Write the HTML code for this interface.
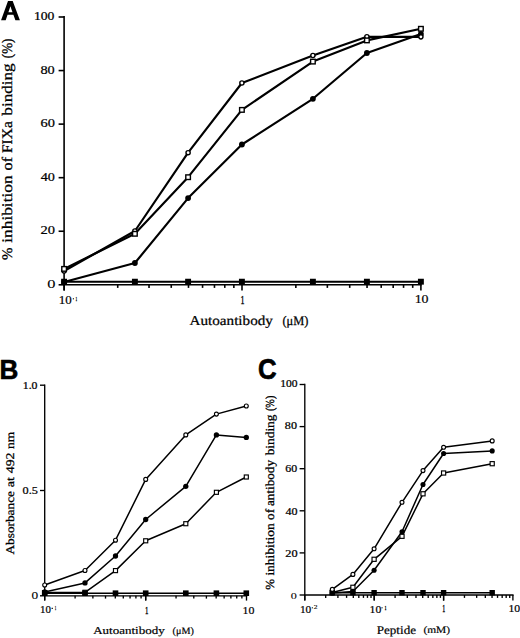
<!DOCTYPE html>
<html><head><meta charset="utf-8"><style>
html,body{margin:0;padding:0;background:#fff;}
body{width:520px;height:638px;overflow:hidden;}
svg{display:block;}
text{fill:#000;}
.gp{text-rendering:geometricPrecision;}
</style></head><body>
<svg width="520" height="638" viewBox="0 0 520 638">
<rect width="520" height="638" fill="#fff"/>
<line x1="64.10" y1="16.10" x2="64.10" y2="290.60" stroke="#000" stroke-width="1.6"/>
<line x1="63.20" y1="284.80" x2="421.80" y2="284.80" stroke="#000" stroke-width="1.6"/>
<line x1="58.60" y1="284.80" x2="64.10" y2="284.80" stroke="#000" stroke-width="1.6"/>
<line x1="58.60" y1="231.24" x2="64.10" y2="231.24" stroke="#000" stroke-width="1.6"/>
<line x1="58.60" y1="177.68" x2="64.10" y2="177.68" stroke="#000" stroke-width="1.6"/>
<line x1="58.60" y1="124.12" x2="64.10" y2="124.12" stroke="#000" stroke-width="1.6"/>
<line x1="58.60" y1="70.56" x2="64.10" y2="70.56" stroke="#000" stroke-width="1.6"/>
<line x1="58.60" y1="17.00" x2="64.10" y2="17.00" stroke="#000" stroke-width="1.6"/>
<line x1="64.20" y1="284.80" x2="64.20" y2="290.60" stroke="#000" stroke-width="1.6"/>
<line x1="117.72" y1="284.80" x2="117.72" y2="287.90" stroke="#000" stroke-width="1.6"/>
<line x1="149.03" y1="284.80" x2="149.03" y2="287.90" stroke="#000" stroke-width="1.6"/>
<line x1="171.25" y1="284.80" x2="171.25" y2="287.90" stroke="#000" stroke-width="1.6"/>
<line x1="188.48" y1="284.80" x2="188.48" y2="287.90" stroke="#000" stroke-width="1.6"/>
<line x1="202.56" y1="284.80" x2="202.56" y2="287.90" stroke="#000" stroke-width="1.6"/>
<line x1="214.46" y1="284.80" x2="214.46" y2="287.90" stroke="#000" stroke-width="1.6"/>
<line x1="224.77" y1="284.80" x2="224.77" y2="287.90" stroke="#000" stroke-width="1.6"/>
<line x1="233.86" y1="284.80" x2="233.86" y2="287.90" stroke="#000" stroke-width="1.6"/>
<line x1="242.00" y1="284.80" x2="242.00" y2="290.60" stroke="#000" stroke-width="1.6"/>
<line x1="295.85" y1="284.80" x2="295.85" y2="287.90" stroke="#000" stroke-width="1.6"/>
<line x1="327.36" y1="284.80" x2="327.36" y2="287.90" stroke="#000" stroke-width="1.6"/>
<line x1="349.71" y1="284.80" x2="349.71" y2="287.90" stroke="#000" stroke-width="1.6"/>
<line x1="367.05" y1="284.80" x2="367.05" y2="287.90" stroke="#000" stroke-width="1.6"/>
<line x1="381.21" y1="284.80" x2="381.21" y2="287.90" stroke="#000" stroke-width="1.6"/>
<line x1="393.19" y1="284.80" x2="393.19" y2="287.90" stroke="#000" stroke-width="1.6"/>
<line x1="403.56" y1="284.80" x2="403.56" y2="287.90" stroke="#000" stroke-width="1.6"/>
<line x1="412.71" y1="284.80" x2="412.71" y2="287.90" stroke="#000" stroke-width="1.6"/>
<line x1="420.90" y1="284.80" x2="420.90" y2="290.60" stroke="#000" stroke-width="1.6"/>
<polyline points="64.10,281.70 134.90,281.70 188.10,281.70 241.90,281.70 312.90,281.70 366.90,281.70 420.90,281.70" fill="none" stroke="#000" stroke-width="2.15" stroke-linejoin="round" stroke-linecap="round"/>
<polyline points="64.10,282.00 134.90,263.00 188.10,198.10 241.90,144.50 312.90,98.80 366.90,53.00 420.90,34.00" fill="none" stroke="#000" stroke-width="2.15" stroke-linejoin="round" stroke-linecap="round"/>
<polyline points="64.10,268.90 134.90,233.80 188.10,177.20 241.90,109.90 312.90,61.60 366.90,40.40 420.90,28.80" fill="none" stroke="#000" stroke-width="2.15" stroke-linejoin="round" stroke-linecap="round"/>
<polyline points="64.10,271.00 134.90,231.00 188.10,152.70 241.90,83.00 312.90,55.50 366.90,36.70 420.90,36.85" fill="none" stroke="#000" stroke-width="2.15" stroke-linejoin="round" stroke-linecap="round"/>
<rect x="61.15" y="278.75" width="5.90" height="5.90" fill="#000"/>
<rect x="131.95" y="278.75" width="5.90" height="5.90" fill="#000"/>
<rect x="185.15" y="278.75" width="5.90" height="5.90" fill="#000"/>
<rect x="238.95" y="278.75" width="5.90" height="5.90" fill="#000"/>
<rect x="309.95" y="278.75" width="5.90" height="5.90" fill="#000"/>
<rect x="363.95" y="278.75" width="5.90" height="5.90" fill="#000"/>
<rect x="417.95" y="278.75" width="5.90" height="5.90" fill="#000"/>
<circle cx="64.10" cy="282.00" r="2.90" fill="#000"/>
<circle cx="134.90" cy="263.00" r="2.90" fill="#000"/>
<circle cx="188.10" cy="198.10" r="2.90" fill="#000"/>
<circle cx="241.90" cy="144.50" r="2.90" fill="#000"/>
<circle cx="312.90" cy="98.80" r="2.90" fill="#000"/>
<circle cx="366.90" cy="53.00" r="2.90" fill="#000"/>
<circle cx="420.90" cy="34.00" r="2.90" fill="#000"/>
<circle cx="64.10" cy="271.00" r="2.10" fill="#fff" stroke="#000" stroke-width="1.4"/>
<circle cx="134.90" cy="231.00" r="2.10" fill="#fff" stroke="#000" stroke-width="1.4"/>
<circle cx="188.10" cy="152.70" r="2.10" fill="#fff" stroke="#000" stroke-width="1.4"/>
<circle cx="241.90" cy="83.00" r="2.10" fill="#fff" stroke="#000" stroke-width="1.4"/>
<circle cx="312.90" cy="55.50" r="2.10" fill="#fff" stroke="#000" stroke-width="1.4"/>
<circle cx="366.90" cy="36.70" r="2.10" fill="#fff" stroke="#000" stroke-width="1.4"/>
<circle cx="420.90" cy="36.85" r="2.10" fill="#fff" stroke="#000" stroke-width="1.4"/>
<rect x="61.80" y="266.60" width="4.60" height="4.60" fill="#fff" stroke="#000" stroke-width="1.4"/>
<rect x="132.60" y="231.50" width="4.60" height="4.60" fill="#fff" stroke="#000" stroke-width="1.4"/>
<rect x="185.80" y="174.90" width="4.60" height="4.60" fill="#fff" stroke="#000" stroke-width="1.4"/>
<rect x="239.60" y="107.60" width="4.60" height="4.60" fill="#fff" stroke="#000" stroke-width="1.4"/>
<rect x="310.60" y="59.30" width="4.60" height="4.60" fill="#fff" stroke="#000" stroke-width="1.4"/>
<rect x="364.60" y="38.10" width="4.60" height="4.60" fill="#fff" stroke="#000" stroke-width="1.4"/>
<rect x="418.60" y="26.50" width="4.60" height="4.60" fill="#fff" stroke="#000" stroke-width="1.4"/>
<line x1="44.70" y1="384.50" x2="44.70" y2="600.60" stroke="#000" stroke-width="1.35"/>
<line x1="44.00" y1="595.80" x2="247.20" y2="595.80" stroke="#000" stroke-width="1.35"/>
<line x1="40.00" y1="595.80" x2="44.70" y2="595.80" stroke="#000" stroke-width="1.35"/>
<line x1="40.00" y1="490.50" x2="44.70" y2="490.50" stroke="#000" stroke-width="1.35"/>
<line x1="40.00" y1="385.20" x2="44.70" y2="385.20" stroke="#000" stroke-width="1.35"/>
<line x1="44.70" y1="595.80" x2="44.70" y2="600.60" stroke="#000" stroke-width="1.35"/>
<line x1="75.10" y1="595.80" x2="75.10" y2="598.60" stroke="#000" stroke-width="1.35"/>
<line x1="92.89" y1="595.80" x2="92.89" y2="598.60" stroke="#000" stroke-width="1.35"/>
<line x1="105.51" y1="595.80" x2="105.51" y2="598.60" stroke="#000" stroke-width="1.35"/>
<line x1="115.30" y1="595.80" x2="115.30" y2="598.60" stroke="#000" stroke-width="1.35"/>
<line x1="123.29" y1="595.80" x2="123.29" y2="598.60" stroke="#000" stroke-width="1.35"/>
<line x1="130.05" y1="595.80" x2="130.05" y2="598.60" stroke="#000" stroke-width="1.35"/>
<line x1="135.91" y1="595.80" x2="135.91" y2="598.60" stroke="#000" stroke-width="1.35"/>
<line x1="141.08" y1="595.80" x2="141.08" y2="598.60" stroke="#000" stroke-width="1.35"/>
<line x1="145.70" y1="595.80" x2="145.70" y2="600.60" stroke="#000" stroke-width="1.35"/>
<line x1="145.70" y1="595.80" x2="145.70" y2="600.60" stroke="#000" stroke-width="1.35"/>
<line x1="176.04" y1="595.80" x2="176.04" y2="598.60" stroke="#000" stroke-width="1.35"/>
<line x1="193.79" y1="595.80" x2="193.79" y2="598.60" stroke="#000" stroke-width="1.35"/>
<line x1="206.39" y1="595.80" x2="206.39" y2="598.60" stroke="#000" stroke-width="1.35"/>
<line x1="216.16" y1="595.80" x2="216.16" y2="598.60" stroke="#000" stroke-width="1.35"/>
<line x1="224.14" y1="595.80" x2="224.14" y2="598.60" stroke="#000" stroke-width="1.35"/>
<line x1="230.89" y1="595.80" x2="230.89" y2="598.60" stroke="#000" stroke-width="1.35"/>
<line x1="236.73" y1="595.80" x2="236.73" y2="598.60" stroke="#000" stroke-width="1.35"/>
<line x1="241.89" y1="595.80" x2="241.89" y2="598.60" stroke="#000" stroke-width="1.35"/>
<line x1="246.50" y1="595.80" x2="246.50" y2="600.60" stroke="#000" stroke-width="1.35"/>
<polyline points="44.70,593.20 85.00,593.20 115.50,593.20 145.70,593.20 185.80,593.20 216.40,593.20 246.30,593.20" fill="none" stroke="#000" stroke-width="1.5" stroke-linejoin="round" stroke-linecap="round"/>
<polyline points="44.70,592.60 85.00,592.30 115.50,570.60 145.70,540.80 185.80,523.70 216.40,492.30 246.30,477.00" fill="none" stroke="#000" stroke-width="1.5" stroke-linejoin="round" stroke-linecap="round"/>
<polyline points="44.70,592.00 85.00,582.90 115.50,556.00 145.70,519.50 185.80,486.30 216.40,434.90 246.30,437.40" fill="none" stroke="#000" stroke-width="1.5" stroke-linejoin="round" stroke-linecap="round"/>
<polyline points="44.70,585.00 85.00,570.50 115.50,540.20 145.70,479.40 185.80,434.90 216.40,414.10 246.30,406.00" fill="none" stroke="#000" stroke-width="1.5" stroke-linejoin="round" stroke-linecap="round"/>
<rect x="42.68" y="590.58" width="4.05" height="4.05" fill="#fff" stroke="#000" stroke-width="1.15"/>
<rect x="82.97" y="590.27" width="4.05" height="4.05" fill="#fff" stroke="#000" stroke-width="1.15"/>
<rect x="113.47" y="568.58" width="4.05" height="4.05" fill="#fff" stroke="#000" stroke-width="1.15"/>
<rect x="143.67" y="538.77" width="4.05" height="4.05" fill="#fff" stroke="#000" stroke-width="1.15"/>
<rect x="183.78" y="521.68" width="4.05" height="4.05" fill="#fff" stroke="#000" stroke-width="1.15"/>
<rect x="214.38" y="490.28" width="4.05" height="4.05" fill="#fff" stroke="#000" stroke-width="1.15"/>
<rect x="244.28" y="474.98" width="4.05" height="4.05" fill="#fff" stroke="#000" stroke-width="1.15"/>
<rect x="41.90" y="590.40" width="5.60" height="5.60" fill="#000"/>
<rect x="82.20" y="590.40" width="5.60" height="5.60" fill="#000"/>
<rect x="112.70" y="590.40" width="5.60" height="5.60" fill="#000"/>
<rect x="142.90" y="590.40" width="5.60" height="5.60" fill="#000"/>
<rect x="183.00" y="590.40" width="5.60" height="5.60" fill="#000"/>
<rect x="213.60" y="590.40" width="5.60" height="5.60" fill="#000"/>
<rect x="243.50" y="590.40" width="5.60" height="5.60" fill="#000"/>
<circle cx="44.70" cy="592.00" r="2.65" fill="#000"/>
<circle cx="85.00" cy="582.90" r="2.65" fill="#000"/>
<circle cx="115.50" cy="556.00" r="2.65" fill="#000"/>
<circle cx="145.70" cy="519.50" r="2.65" fill="#000"/>
<circle cx="185.80" cy="486.30" r="2.65" fill="#000"/>
<circle cx="216.40" cy="434.90" r="2.65" fill="#000"/>
<circle cx="246.30" cy="437.40" r="2.65" fill="#000"/>
<circle cx="44.70" cy="585.00" r="1.97" fill="#fff" stroke="#000" stroke-width="1.15"/>
<circle cx="85.00" cy="570.50" r="1.97" fill="#fff" stroke="#000" stroke-width="1.15"/>
<circle cx="115.50" cy="540.20" r="1.97" fill="#fff" stroke="#000" stroke-width="1.15"/>
<circle cx="145.70" cy="479.40" r="1.97" fill="#fff" stroke="#000" stroke-width="1.15"/>
<circle cx="185.80" cy="434.90" r="1.97" fill="#fff" stroke="#000" stroke-width="1.15"/>
<circle cx="216.40" cy="414.10" r="1.97" fill="#fff" stroke="#000" stroke-width="1.15"/>
<circle cx="246.30" cy="406.00" r="1.97" fill="#fff" stroke="#000" stroke-width="1.15"/>
<line x1="304.80" y1="383.80" x2="304.80" y2="600.60" stroke="#000" stroke-width="1.35"/>
<line x1="304.10" y1="595.00" x2="513.60" y2="595.00" stroke="#000" stroke-width="1.35"/>
<line x1="299.60" y1="595.00" x2="304.80" y2="595.00" stroke="#000" stroke-width="1.35"/>
<line x1="299.60" y1="552.90" x2="304.80" y2="552.90" stroke="#000" stroke-width="1.35"/>
<line x1="299.60" y1="510.80" x2="304.80" y2="510.80" stroke="#000" stroke-width="1.35"/>
<line x1="299.60" y1="468.70" x2="304.80" y2="468.70" stroke="#000" stroke-width="1.35"/>
<line x1="299.60" y1="426.60" x2="304.80" y2="426.60" stroke="#000" stroke-width="1.35"/>
<line x1="299.60" y1="384.50" x2="304.80" y2="384.50" stroke="#000" stroke-width="1.35"/>
<line x1="304.80" y1="595.00" x2="304.80" y2="600.60" stroke="#000" stroke-width="1.35"/>
<line x1="325.69" y1="595.00" x2="325.69" y2="597.90" stroke="#000" stroke-width="1.35"/>
<line x1="337.91" y1="595.00" x2="337.91" y2="597.90" stroke="#000" stroke-width="1.35"/>
<line x1="346.58" y1="595.00" x2="346.58" y2="597.90" stroke="#000" stroke-width="1.35"/>
<line x1="353.31" y1="595.00" x2="353.31" y2="597.90" stroke="#000" stroke-width="1.35"/>
<line x1="358.80" y1="595.00" x2="358.80" y2="597.90" stroke="#000" stroke-width="1.35"/>
<line x1="363.45" y1="595.00" x2="363.45" y2="597.90" stroke="#000" stroke-width="1.35"/>
<line x1="367.47" y1="595.00" x2="367.47" y2="597.90" stroke="#000" stroke-width="1.35"/>
<line x1="371.02" y1="595.00" x2="371.02" y2="597.90" stroke="#000" stroke-width="1.35"/>
<line x1="374.20" y1="595.00" x2="374.20" y2="600.60" stroke="#000" stroke-width="1.35"/>
<line x1="374.20" y1="595.00" x2="374.20" y2="600.60" stroke="#000" stroke-width="1.35"/>
<line x1="395.09" y1="595.00" x2="395.09" y2="597.90" stroke="#000" stroke-width="1.35"/>
<line x1="407.31" y1="595.00" x2="407.31" y2="597.90" stroke="#000" stroke-width="1.35"/>
<line x1="415.98" y1="595.00" x2="415.98" y2="597.90" stroke="#000" stroke-width="1.35"/>
<line x1="422.71" y1="595.00" x2="422.71" y2="597.90" stroke="#000" stroke-width="1.35"/>
<line x1="428.20" y1="595.00" x2="428.20" y2="597.90" stroke="#000" stroke-width="1.35"/>
<line x1="432.85" y1="595.00" x2="432.85" y2="597.90" stroke="#000" stroke-width="1.35"/>
<line x1="436.87" y1="595.00" x2="436.87" y2="597.90" stroke="#000" stroke-width="1.35"/>
<line x1="440.42" y1="595.00" x2="440.42" y2="597.90" stroke="#000" stroke-width="1.35"/>
<line x1="443.60" y1="595.00" x2="443.60" y2="600.60" stroke="#000" stroke-width="1.35"/>
<line x1="443.60" y1="595.00" x2="443.60" y2="600.60" stroke="#000" stroke-width="1.35"/>
<line x1="464.46" y1="595.00" x2="464.46" y2="597.90" stroke="#000" stroke-width="1.35"/>
<line x1="476.66" y1="595.00" x2="476.66" y2="597.90" stroke="#000" stroke-width="1.35"/>
<line x1="485.32" y1="595.00" x2="485.32" y2="597.90" stroke="#000" stroke-width="1.35"/>
<line x1="492.04" y1="595.00" x2="492.04" y2="597.90" stroke="#000" stroke-width="1.35"/>
<line x1="497.53" y1="595.00" x2="497.53" y2="597.90" stroke="#000" stroke-width="1.35"/>
<line x1="502.17" y1="595.00" x2="502.17" y2="597.90" stroke="#000" stroke-width="1.35"/>
<line x1="506.18" y1="595.00" x2="506.18" y2="597.90" stroke="#000" stroke-width="1.35"/>
<line x1="509.73" y1="595.00" x2="509.73" y2="597.90" stroke="#000" stroke-width="1.35"/>
<line x1="512.90" y1="595.00" x2="512.90" y2="600.60" stroke="#000" stroke-width="1.35"/>
<polyline points="332.30,592.70 352.90,592.70 374.10,592.70 402.00,592.70 423.00,592.70 443.60,592.70 492.20,592.70" fill="none" stroke="#000" stroke-width="1.5" stroke-linejoin="round" stroke-linecap="round"/>
<polyline points="332.30,593.00 352.90,591.50 374.10,570.20 402.00,531.70 423.00,484.50 443.60,453.50 492.20,450.90" fill="none" stroke="#000" stroke-width="1.5" stroke-linejoin="round" stroke-linecap="round"/>
<polyline points="332.30,592.50 352.90,587.30 374.10,559.30 402.00,536.30 423.00,493.80 443.60,473.00 492.20,463.70" fill="none" stroke="#000" stroke-width="1.5" stroke-linejoin="round" stroke-linecap="round"/>
<polyline points="332.30,589.40 352.90,574.40 374.10,548.80 402.00,502.30 423.00,470.60 443.60,447.30 492.20,440.90" fill="none" stroke="#000" stroke-width="1.5" stroke-linejoin="round" stroke-linecap="round"/>
<rect x="330.23" y="590.42" width="4.15" height="4.15" fill="#fff" stroke="#000" stroke-width="1.15"/>
<rect x="350.82" y="585.22" width="4.15" height="4.15" fill="#fff" stroke="#000" stroke-width="1.15"/>
<rect x="372.03" y="557.22" width="4.15" height="4.15" fill="#fff" stroke="#000" stroke-width="1.15"/>
<rect x="399.93" y="534.22" width="4.15" height="4.15" fill="#fff" stroke="#000" stroke-width="1.15"/>
<rect x="420.93" y="491.73" width="4.15" height="4.15" fill="#fff" stroke="#000" stroke-width="1.15"/>
<rect x="441.53" y="470.93" width="4.15" height="4.15" fill="#fff" stroke="#000" stroke-width="1.15"/>
<rect x="490.12" y="461.62" width="4.15" height="4.15" fill="#fff" stroke="#000" stroke-width="1.15"/>
<rect x="329.60" y="590.00" width="5.40" height="5.40" fill="#000"/>
<rect x="350.20" y="590.00" width="5.40" height="5.40" fill="#000"/>
<rect x="371.40" y="590.00" width="5.40" height="5.40" fill="#000"/>
<rect x="399.30" y="590.00" width="5.40" height="5.40" fill="#000"/>
<rect x="420.30" y="590.00" width="5.40" height="5.40" fill="#000"/>
<rect x="440.90" y="590.00" width="5.40" height="5.40" fill="#000"/>
<rect x="489.50" y="590.00" width="5.40" height="5.40" fill="#000"/>
<circle cx="332.30" cy="593.00" r="2.55" fill="#000"/>
<circle cx="352.90" cy="591.50" r="2.55" fill="#000"/>
<circle cx="374.10" cy="570.20" r="2.55" fill="#000"/>
<circle cx="402.00" cy="531.70" r="2.55" fill="#000"/>
<circle cx="423.00" cy="484.50" r="2.55" fill="#000"/>
<circle cx="443.60" cy="453.50" r="2.55" fill="#000"/>
<circle cx="492.20" cy="450.90" r="2.55" fill="#000"/>
<circle cx="332.30" cy="589.40" r="1.97" fill="#fff" stroke="#000" stroke-width="1.15"/>
<circle cx="352.90" cy="574.40" r="1.97" fill="#fff" stroke="#000" stroke-width="1.15"/>
<circle cx="374.10" cy="548.80" r="1.97" fill="#fff" stroke="#000" stroke-width="1.15"/>
<circle cx="402.00" cy="502.30" r="1.97" fill="#fff" stroke="#000" stroke-width="1.15"/>
<circle cx="423.00" cy="470.60" r="1.97" fill="#fff" stroke="#000" stroke-width="1.15"/>
<circle cx="443.60" cy="447.30" r="1.97" fill="#fff" stroke="#000" stroke-width="1.15"/>
<circle cx="492.20" cy="440.90" r="1.97" fill="#fff" stroke="#000" stroke-width="1.15"/>
<path d="M1.06,20.3 L8.0,1.06 L12.7,1.06 L19.9,20.3 L15.4,20.3 L13.4,14.8 L7.55,14.8 L5.7,20.3 Z M10.4,6.3 L12.5,12.3 L8.4,12.3 Z" fill="#000" fill-rule="evenodd"/>
<text transform="matrix(0.13686 0.00000 0.00000 0.11567 33.89325 20.00933)" x="0" y="0" font-size="100" font-family="'Liberation Serif', serif" font-weight="normal" stroke="#000" stroke-width="0.25" vector-effect="non-scaling-stroke" stroke-linejoin="round">100</text>
<text transform="matrix(0.14293 0.00000 0.00000 0.11716 40.45326 74.25784)" x="0" y="0" font-size="100" font-family="'Liberation Serif', serif" font-weight="normal" stroke="#000" stroke-width="0.25" vector-effect="non-scaling-stroke" stroke-linejoin="round">80</text>
<text transform="matrix(0.14402 0.00000 0.00000 0.11716 40.44891 127.25784)" x="0" y="0" font-size="100" font-family="'Liberation Serif', serif" font-weight="normal" stroke="#000" stroke-width="0.25" vector-effect="non-scaling-stroke" stroke-linejoin="round">60</text>
<text transform="matrix(0.14202 0.00000 0.00000 0.11716 40.74096 181.25784)" x="0" y="0" font-size="100" font-family="'Liberation Serif', serif" font-weight="normal" stroke="#000" stroke-width="0.25" vector-effect="non-scaling-stroke" stroke-linejoin="round">40</text>
<text transform="matrix(0.14511 0.00000 0.00000 0.11716 40.44457 234.25784)" x="0" y="0" font-size="100" font-family="'Liberation Serif', serif" font-weight="normal" stroke="#000" stroke-width="0.25" vector-effect="non-scaling-stroke" stroke-linejoin="round">20</text>
<text transform="matrix(0.16429 0.00000 0.00000 0.12388 47.19286 288.32612)" x="0" y="0" font-size="100" font-family="'Liberation Serif', serif" font-weight="normal" stroke="#000" stroke-width="0.1" vector-effect="non-scaling-stroke" stroke-linejoin="round">0</text>
<text transform="matrix(0.12989 0.00000 0.00000 0.11642 58.68103 303.78358)" x="0" y="0" font-size="100" font-family="'Liberation Serif', serif" font-weight="normal" stroke="#000" stroke-width="0.2" vector-effect="non-scaling-stroke" stroke-linejoin="round">10</text>
<text transform="matrix(0.02429 0.00000 0.00000 0.05455 75.73143 300.80000)" x="0" y="0" font-size="100" font-family="'Liberation Serif', serif" font-weight="normal" stroke="#000" stroke-width="0.4" vector-effect="non-scaling-stroke" stroke-linejoin="round">1</text>
<text transform="matrix(0.08000 0.00000 0.00000 0.11667 240.43000 303.75000)" x="0" y="0" font-size="100" font-family="'Liberation Serif', serif" font-weight="normal" stroke="#000" stroke-width="0.3" vector-effect="non-scaling-stroke" stroke-linejoin="round">1</text>
<text transform="matrix(0.13908 0.00000 0.00000 0.12090 414.64828 303.47910)" x="0" y="0" font-size="100" font-family="'Liberation Serif', serif" font-weight="normal" stroke="#000" stroke-width="0.2" vector-effect="non-scaling-stroke" stroke-linejoin="round">10</text>
<text class="gp" transform="matrix(0.15146 0.00000 0.00000 0.13611 189.57354 325.21667)" x="0" y="0" font-size="100" font-family="'Liberation Serif', serif" font-weight="normal" stroke="#000" stroke-width="1.741" stroke-linejoin="round">Autoantibody</text>
<text class="gp" transform="matrix(0.12413 0.00000 0.00000 0.13167 282.42848 324.61000)" x="0" y="0" font-size="100" font-family="'Liberation Serif', serif" font-weight="normal" stroke="#000" stroke-width="1.956" stroke-linejoin="round">(μM)</text>
<text class="gp" transform="matrix(0.00000 -0.13121 0.14615 0.00000 11.78077 58.17482)" x="0" y="0" font-size="100" font-family="'Liberation Serif', serif" font-weight="normal" stroke="#000" stroke-width="2.166" stroke-linejoin="round">(%)</text>
<text class="gp" transform="matrix(0.00000 -0.17072 0.14615 0.00000 11.78077 115.65000)" x="0" y="0" font-size="100" font-family="'Liberation Serif', serif" font-weight="normal" stroke="#000" stroke-width="1.899" stroke-linejoin="round">binding</text>
<text class="gp" transform="matrix(0.00000 -0.15522 0.14615 0.00000 11.78077 153.01567)" x="0" y="0" font-size="100" font-family="'Liberation Serif', serif" font-weight="normal" stroke="#000" stroke-width="1.992" stroke-linejoin="round">FIXa</text>
<text class="gp" transform="matrix(0.00000 -0.16076 0.14615 0.00000 11.78077 170.39304)" x="0" y="0" font-size="100" font-family="'Liberation Serif', serif" font-weight="normal" stroke="#000" stroke-width="1.957" stroke-linejoin="round">of</text>
<text class="gp" transform="matrix(0.00000 -0.17299 0.14615 0.00000 11.78077 242.69597)" x="0" y="0" font-size="100" font-family="'Liberation Serif', serif" font-weight="normal" stroke="#000" stroke-width="1.887" stroke-linejoin="round">inhibition</text>
<text class="gp" transform="matrix(0.00000 -0.14935 0.14615 0.00000 11.78077 260.09805)" x="0" y="0" font-size="100" font-family="'Liberation Serif', serif" font-weight="normal" stroke="#000" stroke-width="2.031" stroke-linejoin="round">%</text>
<text transform="matrix(0.26066 0.00000 0.00000 0.27681 -0.52459 379.00000)" x="0" y="0" font-size="100" font-family="'Liberation Sans', sans-serif" font-weight="bold" stroke="#000" stroke-width="0.6" vector-effect="non-scaling-stroke" stroke-linejoin="round">B</text>
<text transform="matrix(0.11830 0.00000 0.00000 0.09925 22.76027 389.07575)" x="0" y="0" font-size="100" font-family="'Liberation Serif', serif" font-weight="normal" stroke="#000" stroke-width="0.25" vector-effect="non-scaling-stroke" stroke-linejoin="round">1.0</text>
<text transform="matrix(0.12265 0.00000 0.00000 0.10672 22.53440 494.26828)" x="0" y="0" font-size="100" font-family="'Liberation Serif', serif" font-weight="normal" stroke="#000" stroke-width="0.25" vector-effect="non-scaling-stroke" stroke-linejoin="round">0.5</text>
<text transform="matrix(0.13333 0.00000 0.00000 0.10448 31.61667 599.34552)" x="0" y="0" font-size="100" font-family="'Liberation Serif', serif" font-weight="normal" stroke="#000" stroke-width="0.1" vector-effect="non-scaling-stroke" stroke-linejoin="round">0</text>
<text transform="matrix(0.10920 0.00000 0.00000 0.10448 40.11724 612.99552)" x="0" y="0" font-size="100" font-family="'Liberation Serif', serif" font-weight="normal" stroke="#000" stroke-width="0.2" vector-effect="non-scaling-stroke" stroke-linejoin="round">10</text>
<text transform="matrix(0.02000 0.00000 0.00000 0.05152 54.92000 609.60000)" x="0" y="0" font-size="100" font-family="'Liberation Serif', serif" font-weight="normal" stroke="#000" stroke-width="0.4" vector-effect="non-scaling-stroke" stroke-linejoin="round">1</text>
<text transform="matrix(0.06857 0.00000 0.00000 0.10152 145.03286 613.75000)" x="0" y="0" font-size="100" font-family="'Liberation Serif', serif" font-weight="normal" stroke="#000" stroke-width="0.3" vector-effect="non-scaling-stroke" stroke-linejoin="round">1</text>
<text transform="matrix(0.11954 0.00000 0.00000 0.10149 242.42414 613.69851)" x="0" y="0" font-size="100" font-family="'Liberation Serif', serif" font-weight="normal" stroke="#000" stroke-width="0.2" vector-effect="non-scaling-stroke" stroke-linejoin="round">10</text>
<text class="gp" transform="matrix(0.13005 0.00000 0.00000 0.10667 93.16995 634.16000)" x="0" y="0" font-size="100" font-family="'Liberation Serif', serif" font-weight="normal" stroke="#000" stroke-width="1.698" stroke-linejoin="round">Autoantibody</text>
<text class="gp" transform="matrix(0.10199 0.00000 0.00000 0.10000 172.59204 634.00000)" x="0" y="0" font-size="100" font-family="'Liberation Serif', serif" font-weight="normal" stroke="#000" stroke-width="1.980" stroke-linejoin="round">(μM)</text>
<text class="gp" transform="matrix(0.00000 -0.13387 0.11714 0.00000 14.03286 449.01774)" x="0" y="0" font-size="100" font-family="'Liberation Serif', serif" font-weight="normal" stroke="#000" stroke-width="2.396" stroke-linejoin="round">nm</text>
<text class="gp" transform="matrix(0.00000 -0.13732 0.11714 0.00000 14.03286 473.22465)" x="0" y="0" font-size="100" font-family="'Liberation Serif', serif" font-weight="normal" stroke="#000" stroke-width="2.365" stroke-linejoin="round">492</text>
<text class="gp" transform="matrix(0.00000 -0.13971 0.11714 0.00000 14.03286 487.30882)" x="0" y="0" font-size="100" font-family="'Liberation Serif', serif" font-weight="normal" stroke="#000" stroke-width="2.345" stroke-linejoin="round">at</text>
<text class="gp" transform="matrix(0.00000 -0.13277 0.11714 0.00000 14.03286 554.48277)" x="0" y="0" font-size="100" font-family="'Liberation Serif', serif" font-weight="normal" stroke="#000" stroke-width="2.406" stroke-linejoin="round">Absorbance</text>
<text transform="matrix(0.25846 0.00000 0.00000 0.28592 258.06615 379.41408)" x="0" y="0" font-size="100" font-family="'Liberation Sans', sans-serif" font-weight="bold" stroke="#000" stroke-width="0.6" vector-effect="non-scaling-stroke" stroke-linejoin="round">C</text>
<text transform="matrix(0.11569 0.00000 0.00000 0.09925 280.28376 387.47575)" x="0" y="0" font-size="100" font-family="'Liberation Serif', serif" font-weight="normal" stroke="#000" stroke-width="0.25" vector-effect="non-scaling-stroke" stroke-linejoin="round">100</text>
<text transform="matrix(0.12120 0.00000 0.00000 0.09478 284.84022 429.08022)" x="0" y="0" font-size="100" font-family="'Liberation Serif', serif" font-weight="normal" stroke="#000" stroke-width="0.25" vector-effect="non-scaling-stroke" stroke-linejoin="round">80</text>
<text transform="matrix(0.11902 0.00000 0.00000 0.09328 285.24891 471.78172)" x="0" y="0" font-size="100" font-family="'Liberation Serif', serif" font-weight="normal" stroke="#000" stroke-width="0.25" vector-effect="non-scaling-stroke" stroke-linejoin="round">60</text>
<text transform="matrix(0.12074 0.00000 0.00000 0.09925 285.48351 514.67575)" x="0" y="0" font-size="100" font-family="'Liberation Serif', serif" font-weight="normal" stroke="#000" stroke-width="0.25" vector-effect="non-scaling-stroke" stroke-linejoin="round">40</text>
<text transform="matrix(0.12337 0.00000 0.00000 0.09478 285.23152 556.68022)" x="0" y="0" font-size="100" font-family="'Liberation Serif', serif" font-weight="normal" stroke="#000" stroke-width="0.25" vector-effect="non-scaling-stroke" stroke-linejoin="round">20</text>
<text transform="matrix(0.12143 0.00000 0.00000 0.09104 290.86429 598.85896)" x="0" y="0" font-size="100" font-family="'Liberation Serif', serif" font-weight="normal" stroke="#000" stroke-width="0.1" vector-effect="non-scaling-stroke" stroke-linejoin="round">0</text>
<text transform="matrix(0.11379 0.00000 0.00000 0.10000 299.87586 612.80000)" x="0" y="0" font-size="100" font-family="'Liberation Serif', serif" font-weight="normal" stroke="#000" stroke-width="0.2" vector-effect="non-scaling-stroke" stroke-linejoin="round">10</text>
<text transform="matrix(0.07625 0.00000 0.00000 0.06288 313.77000 609.42500)" x="0" y="0" font-size="100" font-family="'Liberation Serif', serif" font-weight="normal" stroke="#000" stroke-width="0.15" vector-effect="non-scaling-stroke" stroke-linejoin="round">2</text>
<text transform="matrix(0.11724 0.00000 0.00000 0.10448 369.54483 612.79552)" x="0" y="0" font-size="100" font-family="'Liberation Serif', serif" font-weight="normal" stroke="#000" stroke-width="0.2" vector-effect="non-scaling-stroke" stroke-linejoin="round">10</text>
<text transform="matrix(0.03143 0.00000 0.00000 0.05909 384.81714 609.60000)" x="0" y="0" font-size="100" font-family="'Liberation Serif', serif" font-weight="normal" stroke="#000" stroke-width="0.4" vector-effect="non-scaling-stroke" stroke-linejoin="round">1</text>
<text transform="matrix(0.06000 0.00000 0.00000 0.09545 442.31000 612.45000)" x="0" y="0" font-size="100" font-family="'Liberation Serif', serif" font-weight="normal" stroke="#000" stroke-width="0.3" vector-effect="non-scaling-stroke" stroke-linejoin="round">1</text>
<text transform="matrix(0.11724 0.00000 0.00000 0.10597 508.44483 612.39403)" x="0" y="0" font-size="100" font-family="'Liberation Serif', serif" font-weight="normal" stroke="#000" stroke-width="0.2" vector-effect="non-scaling-stroke" stroke-linejoin="round">10</text>
<text class="gp" transform="matrix(0.13106 0.00000 0.00000 0.11778 376.70683 633.92667)" x="0" y="0" font-size="100" font-family="'Liberation Serif', serif" font-weight="normal" stroke="#000" stroke-width="1.610" stroke-linejoin="round">Peptide</text>
<text class="gp" transform="matrix(0.11444 0.00000 0.00000 0.09889 423.39222 633.12333)" x="0" y="0" font-size="100" font-family="'Liberation Serif', serif" font-weight="normal" stroke="#000" stroke-width="1.880" stroke-linejoin="round">(mM)</text>
<text class="gp" transform="matrix(0.00000 -0.10284 0.12308 0.00000 273.96538 411.06135)" x="0" y="0" font-size="100" font-family="'Liberation Serif', serif" font-weight="normal" stroke="#000" stroke-width="2.667" stroke-linejoin="round">(%)</text>
<text class="gp" transform="matrix(0.00000 -0.13355 0.12308 0.00000 273.96538 455.35000)" x="0" y="0" font-size="100" font-family="'Liberation Serif', serif" font-weight="normal" stroke="#000" stroke-width="2.340" stroke-linejoin="round">binding</text>
<text class="gp" transform="matrix(0.00000 -0.13179 0.12308 0.00000 273.96538 506.07717)" x="0" y="0" font-size="100" font-family="'Liberation Serif', serif" font-weight="normal" stroke="#000" stroke-width="2.356" stroke-linejoin="round">antibody</text>
<text class="gp" transform="matrix(0.00000 -0.13165 0.12308 0.00000 273.96538 519.87658)" x="0" y="0" font-size="100" font-family="'Liberation Serif', serif" font-weight="normal" stroke="#000" stroke-width="2.357" stroke-linejoin="round">of</text>
<text class="gp" transform="matrix(0.00000 -0.13429 0.12308 0.00000 273.96538 575.61857)" x="0" y="0" font-size="100" font-family="'Liberation Serif', serif" font-weight="normal" stroke="#000" stroke-width="2.334" stroke-linejoin="round">inhibition</text>
<text class="gp" transform="matrix(0.00000 -0.12987 0.12308 0.00000 273.96538 589.83961)" x="0" y="0" font-size="100" font-family="'Liberation Serif', serif" font-weight="normal" stroke="#000" stroke-width="2.373" stroke-linejoin="round">%</text>
<rect x="72.8" y="298.3" width="1.20" height="1.00" fill="#000"/>
<rect x="51.5" y="607.8" width="1.50" height="1.00" fill="#000"/>
<rect x="311.8" y="607.3" width="1.10" height="1.00" fill="#000"/>
<rect x="381.5" y="607.3" width="1.10" height="1.00" fill="#000"/>
</svg>
</body></html>
